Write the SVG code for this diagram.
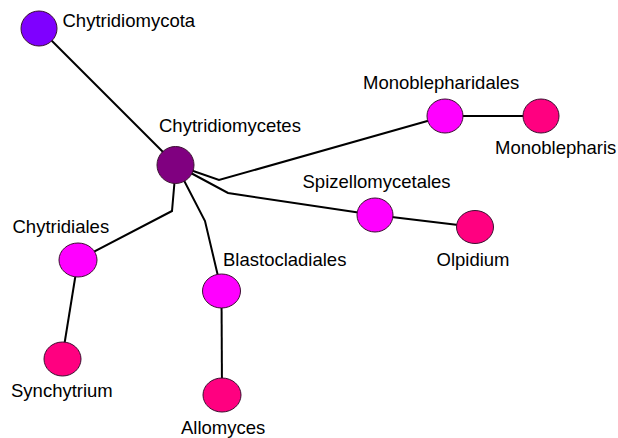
<svg xmlns="http://www.w3.org/2000/svg" width="618" height="438" viewBox="0 0 618 438">
<style>
.bg{fill:#ffffff}
.edge{fill:none;stroke:#000;stroke-width:2;stroke-linejoin:miter}
.n{stroke:#3a1030;stroke-width:1}
.phylum{fill:#7f00ff}
.cls{fill:#800080}
.ord{fill:#ff00ff}
.gen{fill:#ff0080}
text{font-family:"Liberation Sans",Arial,sans-serif;font-size:18.5px;fill:#000}
</style>
<rect class="bg" x="0" y="0" width="618" height="438"/>
<g id="connectors">
<line class="edge" x1="39" y1="28" x2="176" y2="165"/>
<polyline class="edge" points="176,165 219,180 445,116"/>
<polyline class="edge" points="176,165 228,193 375,215"/>
<polyline class="edge" points="176,165 172,211 78,260"/>
<polyline class="edge" points="176,165 205,221 221.5,291"/>
<line class="edge" x1="78" y1="260" x2="62" y2="359"/>
<line class="edge" x1="221.5" y1="291" x2="222" y2="395"/>
<line class="edge" x1="445" y1="116" x2="541" y2="116"/>
<line class="edge" x1="375" y1="215" x2="475" y2="227"/>
</g>
<g id="chytridiomycota">
<ellipse class="n phylum" cx="39" cy="28.5" rx="18" ry="17.5"/>
<text x="62.5" y="27">Chytridiomycota</text>
</g>
<g id="chytridiomycetes">
<ellipse class="n cls" cx="175.5" cy="165" rx="18.5" ry="18.5"/>
<text x="159" y="131.5">Chytridiomycetes</text>
</g>
<g id="monoblepharidales">
<ellipse class="n ord" cx="445" cy="116" rx="18" ry="17"/>
<text x="363" y="89">Monoblepharidales</text>
</g>
<g id="monoblepharis">
<ellipse class="n gen" cx="541" cy="116" rx="18" ry="17"/>
<text x="495" y="153.5">Monoblepharis</text>
</g>
<g id="spizellomycetales">
<ellipse class="n ord" cx="375" cy="215" rx="18" ry="17"/>
<text x="302.5" y="188">Spizellomycetales</text>
</g>
<g id="olpidium">
<ellipse class="n gen" cx="475" cy="227" rx="18.5" ry="16.5"/>
<text x="436.5" y="266">Olpidium</text>
</g>
<g id="chytridiales">
<ellipse class="n ord" cx="78" cy="260" rx="19" ry="17"/>
<text x="12.5" y="233">Chytridiales</text>
</g>
<g id="synchytrium">
<ellipse class="n gen" cx="62.5" cy="359" rx="18.5" ry="17"/>
<text x="11" y="397">Synchytrium</text>
</g>
<g id="blastocladiales">
<ellipse class="n ord" cx="221.5" cy="291" rx="19" ry="17"/>
<text x="223" y="266">Blastocladiales</text>
</g>
<g id="allomyces">
<ellipse class="n gen" cx="222" cy="395" rx="19" ry="17"/>
<text x="181" y="433.5">Allomyces</text>
</g>
</svg>
